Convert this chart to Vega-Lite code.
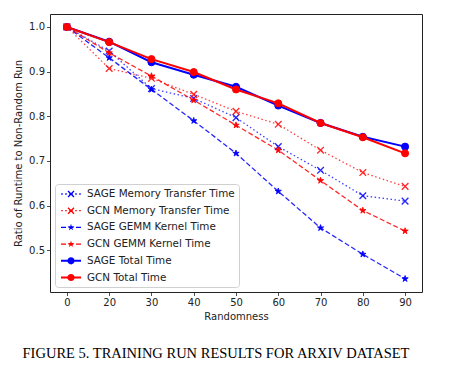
{
  "$schema": "https://vega.github.io/schema/vega-lite/v6.json",
  "width": 372,
  "height": 278,
  "autosize": {"type": "none"},
  "padding": {"left": 50, "top": 14, "right": 30, "bottom": 80},
  "background": "white",
  "config": {
    "font": "DejaVu Sans",
    "view": {"stroke": "#222", "strokeWidth": 1},
    "axis": {
      "labelFont": "DejaVu Sans", "labelFontSize": 10, "labelColor": "#222",
      "titleFont": "DejaVu Sans", "titleFontSize": 10, "titleFontWeight": "normal", "titleColor": "#222",
      "tickColor": "#222", "tickSize": 3.5, "tickWidth": 0.8, "domain": false, "grid": false, "labelPadding": 2
    }
  },
  "title": {
    "text": "FIGURE 5. TRAINING RUN RESULTS FOR ARXIV DATASET",
    "orient": "bottom", "anchor": "middle", "font": "Liberation Serif", "fontSize": 14.5,
    "fontWeight": "normal", "color": "#000", "offset": 25, "dx": -20
  },
  "data": {"values": [
    {"series": "SAGE Memory Transfer Time", "randomness": 0, "ratio": 1.0},
    {"series": "SAGE Memory Transfer Time", "randomness": 20, "ratio": 0.946},
    {"series": "SAGE Memory Transfer Time", "randomness": 30, "ratio": 0.862},
    {"series": "SAGE Memory Transfer Time", "randomness": 40, "ratio": 0.840},
    {"series": "SAGE Memory Transfer Time", "randomness": 50, "ratio": 0.797},
    {"series": "SAGE Memory Transfer Time", "randomness": 60, "ratio": 0.732},
    {"series": "SAGE Memory Transfer Time", "randomness": 70, "ratio": 0.679},
    {"series": "SAGE Memory Transfer Time", "randomness": 80, "ratio": 0.622},
    {"series": "SAGE Memory Transfer Time", "randomness": 90, "ratio": 0.610},
    {"series": "GCN Memory Transfer Time", "randomness": 0, "ratio": 1.0},
    {"series": "GCN Memory Transfer Time", "randomness": 20, "ratio": 0.907},
    {"series": "GCN Memory Transfer Time", "randomness": 30, "ratio": 0.885},
    {"series": "GCN Memory Transfer Time", "randomness": 40, "ratio": 0.849},
    {"series": "GCN Memory Transfer Time", "randomness": 50, "ratio": 0.811},
    {"series": "GCN Memory Transfer Time", "randomness": 60, "ratio": 0.782},
    {"series": "GCN Memory Transfer Time", "randomness": 70, "ratio": 0.724},
    {"series": "GCN Memory Transfer Time", "randomness": 80, "ratio": 0.674},
    {"series": "GCN Memory Transfer Time", "randomness": 90, "ratio": 0.643},
    {"series": "SAGE GEMM Kernel Time", "randomness": 0, "ratio": 1.0},
    {"series": "SAGE GEMM Kernel Time", "randomness": 20, "ratio": 0.931},
    {"series": "SAGE GEMM Kernel Time", "randomness": 30, "ratio": 0.860},
    {"series": "SAGE GEMM Kernel Time", "randomness": 40, "ratio": 0.790},
    {"series": "SAGE GEMM Kernel Time", "randomness": 50, "ratio": 0.717},
    {"series": "SAGE GEMM Kernel Time", "randomness": 60, "ratio": 0.632},
    {"series": "SAGE GEMM Kernel Time", "randomness": 70, "ratio": 0.550},
    {"series": "SAGE GEMM Kernel Time", "randomness": 80, "ratio": 0.491},
    {"series": "SAGE GEMM Kernel Time", "randomness": 90, "ratio": 0.436},
    {"series": "GCN GEMM Kernel Time", "randomness": 0, "ratio": 1.0},
    {"series": "GCN GEMM Kernel Time", "randomness": 20, "ratio": 0.942},
    {"series": "GCN GEMM Kernel Time", "randomness": 30, "ratio": 0.890},
    {"series": "GCN GEMM Kernel Time", "randomness": 40, "ratio": 0.836},
    {"series": "GCN GEMM Kernel Time", "randomness": 50, "ratio": 0.780},
    {"series": "GCN GEMM Kernel Time", "randomness": 60, "ratio": 0.724},
    {"series": "GCN GEMM Kernel Time", "randomness": 70, "ratio": 0.656},
    {"series": "GCN GEMM Kernel Time", "randomness": 80, "ratio": 0.589},
    {"series": "GCN GEMM Kernel Time", "randomness": 90, "ratio": 0.543},
    {"series": "SAGE Total Time", "randomness": 0, "ratio": 1.0},
    {"series": "SAGE Total Time", "randomness": 20, "ratio": 0.967},
    {"series": "SAGE Total Time", "randomness": 30, "ratio": 0.921},
    {"series": "SAGE Total Time", "randomness": 40, "ratio": 0.893},
    {"series": "SAGE Total Time", "randomness": 50, "ratio": 0.866},
    {"series": "SAGE Total Time", "randomness": 60, "ratio": 0.824},
    {"series": "SAGE Total Time", "randomness": 70, "ratio": 0.785},
    {"series": "SAGE Total Time", "randomness": 80, "ratio": 0.754},
    {"series": "SAGE Total Time", "randomness": 90, "ratio": 0.732},
    {"series": "GCN Total Time", "randomness": 0, "ratio": 1.0},
    {"series": "GCN Total Time", "randomness": 20, "ratio": 0.966},
    {"series": "GCN Total Time", "randomness": 30, "ratio": 0.928},
    {"series": "GCN Total Time", "randomness": 40, "ratio": 0.899},
    {"series": "GCN Total Time", "randomness": 50, "ratio": 0.860},
    {"series": "GCN Total Time", "randomness": 60, "ratio": 0.829},
    {"series": "GCN Total Time", "randomness": 70, "ratio": 0.785},
    {"series": "GCN Total Time", "randomness": 80, "ratio": 0.753},
    {"series": "GCN Total Time", "randomness": 90, "ratio": 0.717}
  ]},
  "encoding": {
    "x": {
      "field": "randomness", "type": "ordinal",
      "scale": {"type": "point", "padding": 0.4},
      "axis": {"title": "Randomness", "labelAngle": 0, "titlePadding": 4}
    },
    "y": {
      "field": "ratio", "type": "quantitative",
      "scale": {"domain": [0.4065, 1.029], "nice": false, "zero": false},
      "axis": {"title": "Ratio of Runtime to Non-Random Run", "values": [0.5, 0.6, 0.7, 0.8, 0.9, 1.0], "format": ".1f", "titlePadding": 5}
    },
    "stroke": {
      "field": "series", "type": "nominal",
      "scale": {
        "domain": ["GCN Total Time", "SAGE Total Time", "GCN GEMM Kernel Time", "SAGE GEMM Kernel Time", "GCN Memory Transfer Time", "SAGE Memory Transfer Time"],
        "range": ["#ff0000", "#0000ff", "#ff0000", "#0000ff", "#ff0000", "#0000ff"]
      },
      "legend": null
    }
  },
  "layer": [
    {
      "transform": [{"filter": {"field": "series", "equal": "SAGE Memory Transfer Time"}}],
      "layer": [
        {"mark": {"type": "line", "strokeWidth": 1.3, "strokeDash": [1.5, 2.5], "opacity": 0.75}},
        {"mark": {"type": "point", "shape": "M-1,-1L1,1M-1,1L1,-1", "filled": false, "size": 44, "strokeWidth": 1.3, "opacity": 0.85}}
      ]
    },
    {
      "transform": [{"filter": {"field": "series", "equal": "GCN Memory Transfer Time"}}],
      "layer": [
        {"mark": {"type": "line", "strokeWidth": 1.3, "strokeDash": [1.5, 2.5], "opacity": 0.75}},
        {"mark": {"type": "point", "shape": "M-1,-1L1,1M-1,1L1,-1", "filled": false, "size": 44, "strokeWidth": 1.3, "opacity": 0.85}}
      ]
    },
    {
      "transform": [{"filter": {"field": "series", "equal": "SAGE GEMM Kernel Time"}}],
      "layer": [
        {"mark": {"type": "line", "strokeWidth": 1.3, "strokeDash": [5, 2.5], "opacity": 0.85}},
        {"mark": {"type": "point", "shape": "M0,-1L0.225,-0.309L0.951,-0.309L0.363,0.118L0.588,0.809L0,0.382L-0.588,0.809L-0.363,0.118L-0.951,-0.309L-0.225,-0.309Z", "filled": true, "size": 44, "strokeWidth": 0.8, "opacity": 1},
         "encoding": {"fill": {"field": "series", "type": "nominal", "scale": {"domain": ["GCN Total Time", "SAGE Total Time", "GCN GEMM Kernel Time", "SAGE GEMM Kernel Time", "GCN Memory Transfer Time", "SAGE Memory Transfer Time"], "range": ["#ff0000", "#0000ff", "#ff0000", "#0000ff", "#ff0000", "#0000ff"]}, "legend": null}}}
      ]
    },
    {
      "transform": [{"filter": {"field": "series", "equal": "GCN GEMM Kernel Time"}}],
      "layer": [
        {"mark": {"type": "line", "strokeWidth": 1.3, "strokeDash": [5, 2.5], "opacity": 0.85}},
        {"mark": {"type": "point", "shape": "M0,-1L0.225,-0.309L0.951,-0.309L0.363,0.118L0.588,0.809L0,0.382L-0.588,0.809L-0.363,0.118L-0.951,-0.309L-0.225,-0.309Z", "filled": true, "size": 44, "strokeWidth": 0.8, "opacity": 1},
         "encoding": {"fill": {"field": "series", "type": "nominal", "scale": {"domain": ["GCN Total Time", "SAGE Total Time", "GCN GEMM Kernel Time", "SAGE GEMM Kernel Time", "GCN Memory Transfer Time", "SAGE Memory Transfer Time"], "range": ["#ff0000", "#0000ff", "#ff0000", "#0000ff", "#ff0000", "#0000ff"]}, "legend": null}}}
      ]
    },
    {
      "transform": [{"filter": {"field": "series", "equal": "SAGE Total Time"}}],
      "layer": [
        {"mark": {"type": "line", "strokeWidth": 2}},
        {"mark": {"type": "point", "shape": "circle", "filled": true, "size": 50, "strokeWidth": 1, "opacity": 1},
         "encoding": {"fill": {"field": "series", "type": "nominal", "scale": {"domain": ["GCN Total Time", "SAGE Total Time", "GCN GEMM Kernel Time", "SAGE GEMM Kernel Time", "GCN Memory Transfer Time", "SAGE Memory Transfer Time"], "range": ["#ff0000", "#0000ff", "#ff0000", "#0000ff", "#ff0000", "#0000ff"]}, "legend": null}}}
      ]
    },
    {
      "transform": [{"filter": {"field": "series", "equal": "GCN Total Time"}}],
      "layer": [
        {"mark": {"type": "line", "strokeWidth": 2}},
        {"mark": {"type": "point", "shape": "circle", "filled": true, "size": 50, "strokeWidth": 1, "opacity": 1},
         "encoding": {"fill": {"field": "series", "type": "nominal", "scale": {"domain": ["GCN Total Time", "SAGE Total Time", "GCN GEMM Kernel Time", "SAGE GEMM Kernel Time", "GCN Memory Transfer Time", "SAGE Memory Transfer Time"], "range": ["#ff0000", "#0000ff", "#ff0000", "#0000ff", "#ff0000", "#0000ff"]}, "legend": null}}}
      ]
    },
    {
      "mark": {"type": "point", "filled": true, "opacity": 0, "size": 144},
      "encoding": {
        "color": {
          "field": "series", "type": "nominal",
          "scale": {
            "domain": ["SAGE Memory Transfer Time", "GCN Memory Transfer Time", "SAGE GEMM Kernel Time", "GCN GEMM Kernel Time", "SAGE Total Time", "GCN Total Time"],
            "range": ["#0000ff", "#ff0000", "#0000ff", "#ff0000", "#0000ff", "#ff0000"]
          },
          "legend": {
            "title": null, "orient": "bottom-left", "offset": 5,
            "padding": 4, "strokeColor": "#d0d0d0", "fillColor": "#ffffff", "cornerRadius": 3,
            "symbolSize": 144, "symbolOffset": 6, "labelOffset": 10, "rowPadding": 4.7,
            "symbolStrokeWidth": 0, "symbolOpacity": 1, "symbolFillColor": "#888888",
            "labelFont": "DejaVu Sans", "labelFontSize": 10.4, "labelColor": "#222", "labelLimit": 0
          }
        },
        "shape": {
          "field": "series", "type": "nominal",
          "scale": {
            "domain": ["SAGE Memory Transfer Time", "GCN Memory Transfer Time", "SAGE GEMM Kernel Time", "GCN GEMM Kernel Time", "SAGE Total Time", "GCN Total Time"],
            "range": [
              "M-1.625,-0.11H-1.375V0.11H-1.625ZM-0.958,-0.11H-0.708V0.11H-0.958ZM-0.292,-0.11H-0.042V0.11H-0.292ZM0.042,-0.11H0.292V0.11H0.042ZM0.708,-0.11H0.958V0.11H0.708ZM1.375,-0.11H1.625V0.11H1.375ZM-0.422,-0.578L0.578,0.422L0.422,0.578L-0.578,-0.422ZM-0.422,0.578L-0.578,0.422L0.422,-0.578L0.578,-0.422Z",
              "M-1.625,-0.11H-1.375V0.11H-1.625ZM-0.958,-0.11H-0.708V0.11H-0.958ZM-0.292,-0.11H-0.042V0.11H-0.292ZM0.042,-0.11H0.292V0.11H0.042ZM0.708,-0.11H0.958V0.11H0.708ZM1.375,-0.11H1.625V0.11H1.375ZM-0.422,-0.578L0.578,0.422L0.422,0.578L-0.578,-0.422ZM-0.422,0.578L-0.578,0.422L0.422,-0.578L0.578,-0.422Z",
              "M-1.667,-0.11H-0.833V0.11H-1.667ZM-0.417,-0.11H0.417V0.11H-0.417ZM0.833,-0.11H1.667V0.11H0.833ZM0,-0.6L0.128,-0.185L0.571,-0.185L0.218,0.071L0.353,0.485L0,0.229L-0.353,0.485L-0.218,0.071L-0.571,-0.185L-0.128,-0.185Z",
              "M-1.667,-0.11H-0.833V0.11H-1.667ZM-0.417,-0.11H0.417V0.11H-0.417ZM0.833,-0.11H1.667V0.11H0.833ZM0,-0.6L0.128,-0.185L0.571,-0.185L0.218,0.071L0.353,0.485L0,0.229L-0.353,0.485L-0.218,0.071L-0.571,-0.185L-0.128,-0.185Z",
              "M-1.667,-0.167H1.667V0.167H-1.667ZM-0.6,0L-0.554,-0.23L-0.424,-0.424L-0.23,-0.554L0,-0.6L0.23,-0.554L0.424,-0.424L0.554,-0.23L0.6,0L0.554,0.23L0.424,0.424L0.23,0.554L0,0.6L-0.23,0.554L-0.424,0.424L-0.554,0.23Z",
              "M-1.667,-0.167H1.667V0.167H-1.667ZM-0.6,0L-0.554,-0.23L-0.424,-0.424L-0.23,-0.554L0,-0.6L0.23,-0.554L0.424,-0.424L0.554,-0.23L0.6,0L0.554,0.23L0.424,0.424L0.23,0.554L0,0.6L-0.23,0.554L-0.424,0.424L-0.554,0.23Z"
            ]
          },
          "legend": {
            "title": null, "orient": "bottom-left", "offset": 5,
            "padding": 4, "strokeColor": "#d0d0d0", "fillColor": "#ffffff", "cornerRadius": 3,
            "symbolSize": 144, "symbolOffset": 6, "labelOffset": 10, "rowPadding": 4.7,
            "symbolStrokeWidth": 0, "symbolOpacity": 1, "symbolFillColor": "#888888",
            "labelFont": "DejaVu Sans", "labelFontSize": 10.4, "labelColor": "#222", "labelLimit": 0
          }
        }
      }
    }
  ]
}
